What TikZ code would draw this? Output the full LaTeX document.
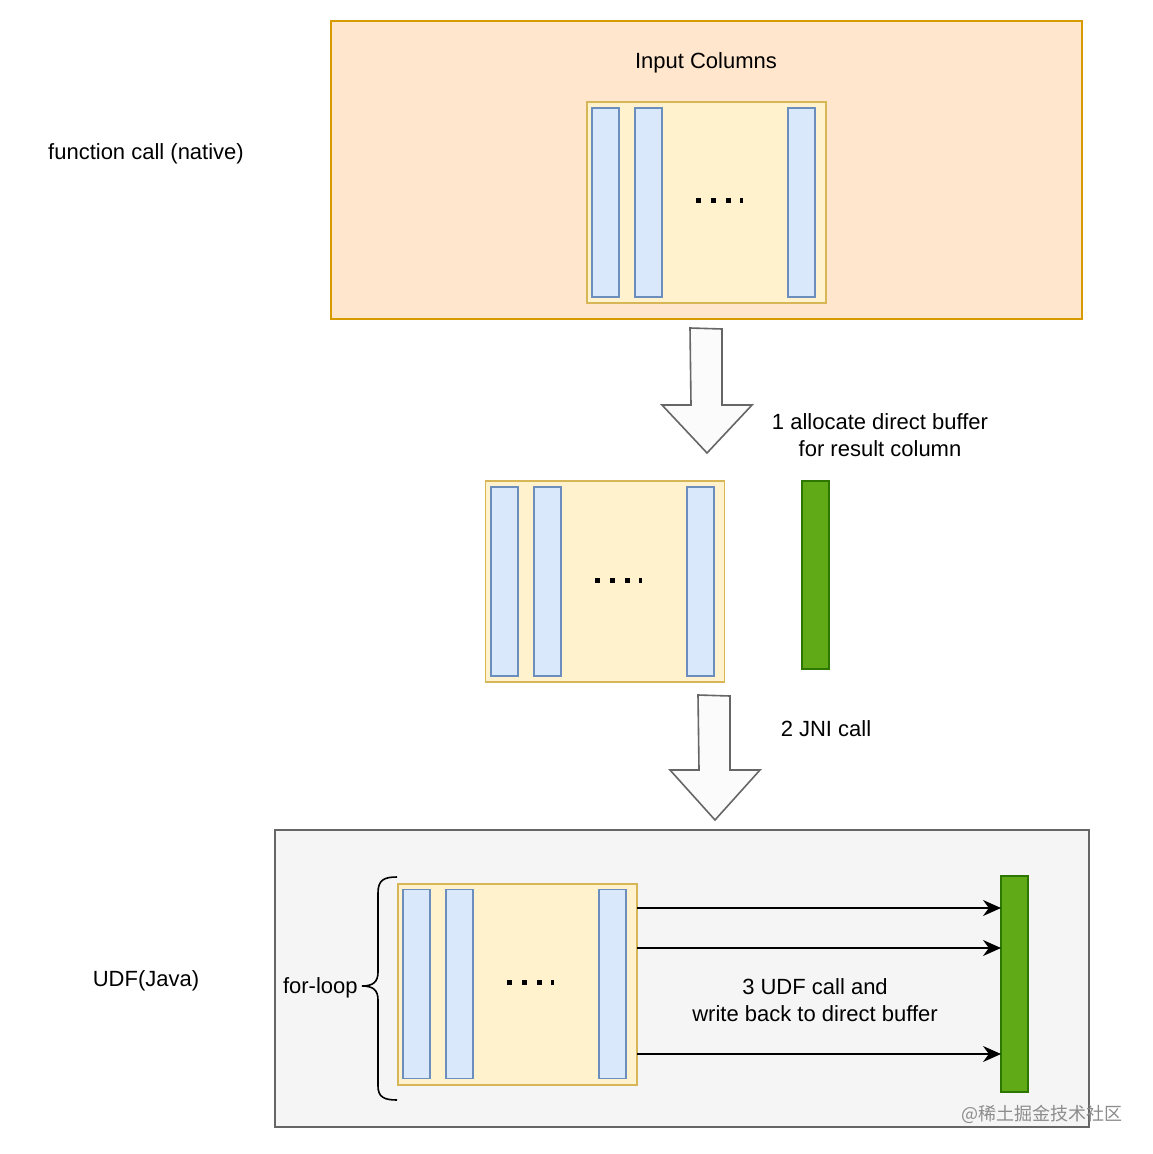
\documentclass[tikz,border=0pt]{standalone}
\usepackage{fontspec}
\setmainfont{Liberation Sans}
\newfontfamily\cjk{Noto Sans CJK SC}
\usetikzlibrary{arrows.meta}
\definecolor{orfill}{HTML}{FFE6CC}
\definecolor{ordraw}{HTML}{D79B00}
\definecolor{yefill}{HTML}{FFF2CC}
\definecolor{yedraw}{HTML}{D6B656}
\definecolor{blfill}{HTML}{DAE8FC}
\definecolor{bldraw}{HTML}{6C8EBF}
\definecolor{grfill}{HTML}{60A917}
\definecolor{grdraw}{HTML}{2D7600}
\definecolor{gyfill}{HTML}{F5F5F5}
\definecolor{gydraw}{HTML}{666666}
\tikzset{
  box/.style={draw, line width=0.8pt, inner sep=0pt, outer sep=0pt},
  orbox/.style={box, fill=orfill, draw=ordraw, minimum width=375.5pt, minimum height=149pt},
  gybox/.style={box, fill=gyfill, draw=gydraw, minimum width=407pt, minimum height=148.5pt},
  yebox/.style={box, fill=yefill, draw=yedraw, minimum width=119.5pt, minimum height=100.5pt},
  colbox/.style={box, fill=blfill, draw=bldraw, minimum width=13.5pt, minimum height=94.5pt},
  grbox/.style={box, fill=grfill, draw=grdraw, minimum width=13.5pt},
  lbl/.style={font=\fontsize{11}{13.5}\selectfont, align=center, inner sep=0pt},
  blockarrow/.style={fill=white!60!gyfill, draw=gydraw, line width=0.8pt, line join=miter},
  flow/.style={-{Stealth[length=9pt,width=8pt]}, line width=0.8pt, black}
}
\newcommand{\mydots}[2]{%
  \foreach \dx in {0,15,30} {\fill (#1-22+\dx,#2-2.5) rectangle ++(5,5);}
  \fill (#1+22,#2-2.5) rectangle ++(2.5,5);
}
\begin{document}
\begin{tikzpicture}[x=0.5pt,y=-0.5pt]
\useasboundingbox (0,0) rectangle (1152,1154);
\fill[white] (0,0) rectangle (1152,1154);

% ---- top: native function call
\node[orbox] (top) at (706.5,170) {};
\node[lbl] (inputlbl) at (706,63) {Input Columns};
\node[lbl] (native) at (146,154) {function call (native)};
\node[yebox] (y1) at (706.5,202.5) {};
\node[colbox] (c11) at (605.5,202.5) {};
\node[colbox] (c12) at (648.5,202.5) {};
\node[colbox] (c13) at (801.5,202.5) {};
\mydots{718}{201}

% ---- block arrow 1
\draw[blockarrow] (690,328) -- (722,329) -- (722,405) -- (752,405) -- (707,453) -- (662,405) -- (691,405) -- cycle;
\node[lbl] (step1) at (880,435) {1 allocate direct buffer\\for result column};

% ---- middle
\node[yebox] (y2) at (605,581.5) {};
\node[colbox] (c21) at (504.5,581.5) {};
\node[colbox] (c22) at (547.5,581.5) {};
\node[colbox] (c23) at (700.5,581.5) {};
\mydots{617}{580}
\node[grbox, minimum height=94pt] (g2) at (815.5,575) {};

% ---- block arrow 2
\draw[blockarrow] (698,695) -- (730,696) -- (730,770) -- (760,770) -- (715,820) -- (670,770) -- (699,770) -- cycle;
\node[lbl] (step2) at (826,729) {2 JNI call};

% ---- bottom: UDF (Java)
\node[gybox] (bot) at (682,978.5) {};
\node[lbl] (udf) at (146,981) {UDF(Java)};
\node[yebox] (y3) at (517.5,984.5) {};
\node[colbox] (c31) at (416.5,984) {};
\node[colbox] (c32) at (459.5,984) {};
\node[colbox] (c33) at (612.5,984) {};
\mydots{529}{982}
\node[grbox, minimum height=108pt] (g3) at (1014.5,984) {};

\coordinate (r1) at (0,908);
\coordinate (r2) at (0,948);
\coordinate (r3) at (0,1054);
\draw[flow] (y3.east |- r1) -- (g3.west |- r1);
\draw[flow] (y3.east |- r2) -- (g3.west |- r2);
\draw[flow] (y3.east |- r3) -- (g3.west |- r3);
\node[lbl] (step3) at (815,1000) {3 UDF call and\\write back to direct buffer};

% ---- brace
\draw[line width=0.8pt] (397,877) .. controls (384,877) and (378,880) .. (378,893)
  -- (378,972) .. controls (378,982) and (373,986) .. (362,986)
  .. controls (373,986) and (378,990) .. (378,1000)
  -- (378,1086) .. controls (378,1097) and (384,1100) .. (397,1100);
\node[lbl, anchor=east] (forloop) at (358,988) {for-loop};

% ---- watermark
\node[font=\cjk\fontsize{9}{11}\selectfont, text=black!45, inner sep=0pt] (wm) at (1042,1114) {@稀土掘金技术社区};
\end{tikzpicture}
\end{document}
